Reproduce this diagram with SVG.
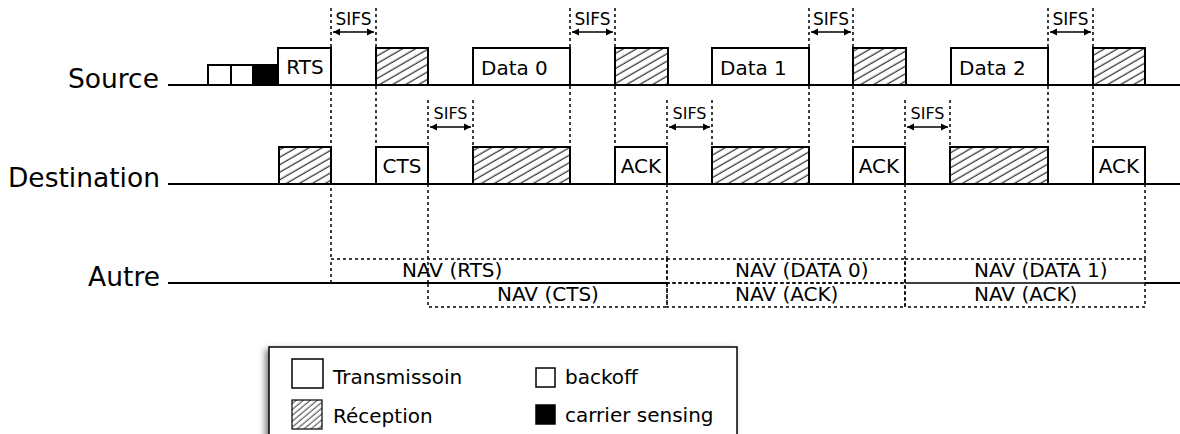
<svg xmlns="http://www.w3.org/2000/svg" width="1180" height="434" viewBox="0 0 1180 434">
<style>
text{font-family:"DejaVu Sans","Liberation Sans",sans-serif;fill:#000}
.lbl{font-size:26.5px;text-anchor:end}
.bt{font-size:20px}
.c{text-anchor:middle}
.sifs{font-size:17px;text-anchor:middle}
.sifs2{font-size:16px;text-anchor:middle}
.nav{font-size:20px}
.leg{font-size:20px}
.tl{stroke:#000;stroke-width:2;fill:none}
.tx{fill:#fff;stroke:#000;stroke-width:2}
.rx{fill:url(#hatch);stroke:#000;stroke-width:2}
.dash{stroke:#000;stroke-width:1.5;stroke-dasharray:3,3;fill:none}
.arr{stroke:#000;stroke-width:1.5;fill:none;marker-start:url(#ah);marker-end:url(#ah)}
</style>
<defs>
<pattern id="hatch" patternUnits="userSpaceOnUse" width="20" height="6.5" patternTransform="rotate(-30)">
<line x1="0" y1="3" x2="20" y2="3" stroke="#000" stroke-width="1"/>
</pattern>
<pattern id="hatchS" patternUnits="userSpaceOnUse" width="20" height="4.5" patternTransform="rotate(-40)">
<line x1="0" y1="2" x2="20" y2="2" stroke="#000" stroke-width="0.8"/>
</pattern>
<marker id="ah" markerUnits="userSpaceOnUse" markerWidth="8" markerHeight="8" refX="7" refY="4" orient="auto-start-reverse">
<path d="M0,0.5 L7,4 L0,7.5 Z" fill="#000"/>
</marker>
<filter id="shadow" x="-10%" y="-20%" width="120%" height="140%">
<feDropShadow dx="-3" dy="3" stdDeviation="3" flood-color="#000" flood-opacity="0.5"/>
</filter>
</defs>

<g id="timelines">
<line class="tl" x1="168" y1="85" x2="1180" y2="85"/>
<line class="tl" x1="168" y1="184" x2="1180" y2="184"/>
<line class="tl" x1="168" y1="283" x2="667" y2="283"/>
<line class="tl" x1="1145" y1="283" x2="1180" y2="283"/>
</g>

<g id="labels">
<text class="lbl" x="159" y="88">Source</text>
<text class="lbl" x="160" y="187">Destination</text>
<text class="lbl" x="160" y="286">Autre</text>
</g>

<g id="source">
<g id="src-backoff1"><rect class="tx" x="208" y="65" width="23" height="20"/></g>
<g id="src-backoff2"><rect class="tx" x="231" y="65" width="22" height="20"/></g>
<g id="src-cs"><rect x="253" y="65" width="25" height="20" fill="#000" stroke="#000" stroke-width="2"/></g>
<g id="src-rts"><rect class="tx" x="278" y="48" width="53" height="37"/><text class="bt c" x="305" y="74">RTS</text></g>
<g id="src-rx1"><rect class="rx" x="376" y="48" width="52" height="37"/></g>
<g id="src-data0"><rect class="tx" x="473" y="48" width="97" height="37"/><text class="bt" x="481" y="75">Data 0</text></g>
<g id="src-rx2"><rect class="rx" x="615" y="48" width="53" height="37"/></g>
<g id="src-data1"><rect class="tx" x="712" y="48" width="97" height="37"/><text class="bt" x="720" y="75">Data 1</text></g>
<g id="src-rx3"><rect class="rx" x="853" y="48" width="53" height="37"/></g>
<g id="src-data2"><rect class="tx" x="951" y="48" width="97" height="37"/><text class="bt" x="959" y="75">Data 2</text></g>
<g id="src-rx4"><rect class="rx" x="1093" y="48" width="52" height="37"/></g>
</g>

<g id="destination">
<g id="dst-rx1"><rect class="rx" x="279" y="147" width="52" height="37"/></g>
<g id="dst-cts"><rect class="tx" x="376" y="147" width="52" height="37"/><text class="bt c" x="402" y="173">CTS</text></g>
<g id="dst-rx2"><rect class="rx" x="473" y="147" width="97" height="37"/></g>
<g id="dst-ack0"><rect class="tx" x="615" y="147" width="52" height="37"/><text class="bt c" x="641" y="173">ACK</text></g>
<g id="dst-rx3"><rect class="rx" x="712" y="147" width="97" height="37"/></g>
<g id="dst-ack1"><rect class="tx" x="853" y="147" width="52" height="37"/><text class="bt c" x="879" y="173">ACK</text></g>
<g id="dst-rx4"><rect class="rx" x="950" y="147" width="98" height="37"/></g>
<g id="dst-ack2"><rect class="tx" x="1093" y="147" width="52" height="37"/><text class="bt c" x="1119" y="173">ACK</text></g>
</g>

<g id="nav">
<g id="nav-rts"><rect class="dash" x="331" y="259" width="336" height="24"/><text class="nav" x="402" y="277">NAV (RTS)</text></g>
<g id="nav-cts"><rect class="dash" x="428" y="283" width="239" height="24"/><text class="nav" x="497" y="301">NAV (CTS)</text></g>
<g id="nav-data0"><rect class="dash" x="667" y="259" width="238" height="24"/><text class="nav" x="735" y="277">NAV (DATA 0)</text></g>
<g id="nav-ack0"><rect class="dash" x="667" y="283" width="238" height="24"/><text class="nav" x="735" y="301">NAV (ACK)</text></g>
<g id="nav-data1"><rect class="dash" x="905" y="259" width="240" height="24"/><text class="nav" x="974" y="277">NAV (DATA 1)</text></g>
<g id="nav-ack1"><rect class="dash" x="905" y="283" width="240" height="24"/><text class="nav" x="974" y="301">NAV (ACK)</text></g>
</g>

<g id="connectors">
<line class="dash" x1="331" y1="8" x2="331" y2="259"/>
<line class="dash" x1="376" y1="8" x2="376" y2="147"/>
<line class="dash" x1="428" y1="100" x2="428" y2="283"/>
<line class="dash" x1="473" y1="100" x2="473" y2="147"/>
<line class="dash" x1="570" y1="8" x2="570" y2="147"/>
<line class="dash" x1="615" y1="8" x2="615" y2="147"/>
<line class="dash" x1="667" y1="100" x2="667" y2="259"/>
<line class="dash" x1="712" y1="100" x2="712" y2="147"/>
<line class="dash" x1="809" y1="8" x2="809" y2="147"/>
<line class="dash" x1="853" y1="8" x2="853" y2="147"/>
<line class="dash" x1="905" y1="100" x2="905" y2="259"/>
<line class="dash" x1="950" y1="100" x2="950" y2="147"/>
<line class="dash" x1="1048" y1="8" x2="1048" y2="147"/>
<line class="dash" x1="1093" y1="8" x2="1093" y2="147"/>
<line class="dash" x1="1145" y1="184" x2="1145" y2="259"/>
<line class="arr" x1="333" y1="32" x2="374" y2="32"/>
<line class="arr" x1="572" y1="32" x2="613" y2="32"/>
<line class="arr" x1="811" y1="32" x2="851" y2="32"/>
<line class="arr" x1="1050" y1="32" x2="1091" y2="32"/>
<line class="arr" x1="430" y1="127" x2="471" y2="127"/>
<line class="arr" x1="669" y1="127" x2="710" y2="127"/>
<line class="arr" x1="907" y1="127" x2="948" y2="127"/>
<text class="sifs" x="353.5" y="25">SIFS</text>
<text class="sifs" x="592.5" y="25">SIFS</text>
<text class="sifs" x="831" y="25">SIFS</text>
<text class="sifs" x="1070.5" y="25">SIFS</text>
<text class="sifs2" x="450.5" y="119">SIFS</text>
<text class="sifs2" x="689.5" y="119">SIFS</text>
<text class="sifs2" x="927.5" y="119">SIFS</text>
</g>

<g id="legend">
<rect x="269" y="347" width="468" height="110" fill="#fff" stroke="#000" stroke-width="1.5" filter="url(#shadow)"/>
<g id="leg-tx"><rect x="292" y="359" width="31" height="29" fill="#fff" stroke="#000" stroke-width="1.5"/><text class="leg" x="333" y="384">Transmissoin</text></g>
<g id="leg-rx"><rect x="292" y="400" width="30" height="29" fill="url(#hatchS)" stroke="#000" stroke-width="1.2"/><text class="leg" x="333" y="423">Réception</text></g>
<g id="leg-backoff"><rect x="536" y="368" width="19" height="19" fill="#fff" stroke="#000" stroke-width="1.5"/><text class="leg" x="565" y="384">backoff</text></g>
<g id="leg-cs"><rect x="536" y="405" width="19" height="19" fill="#000" stroke="#000" stroke-width="1.5"/><text class="leg" x="565" y="422">carrier sensing</text></g>
</g>
</svg>
